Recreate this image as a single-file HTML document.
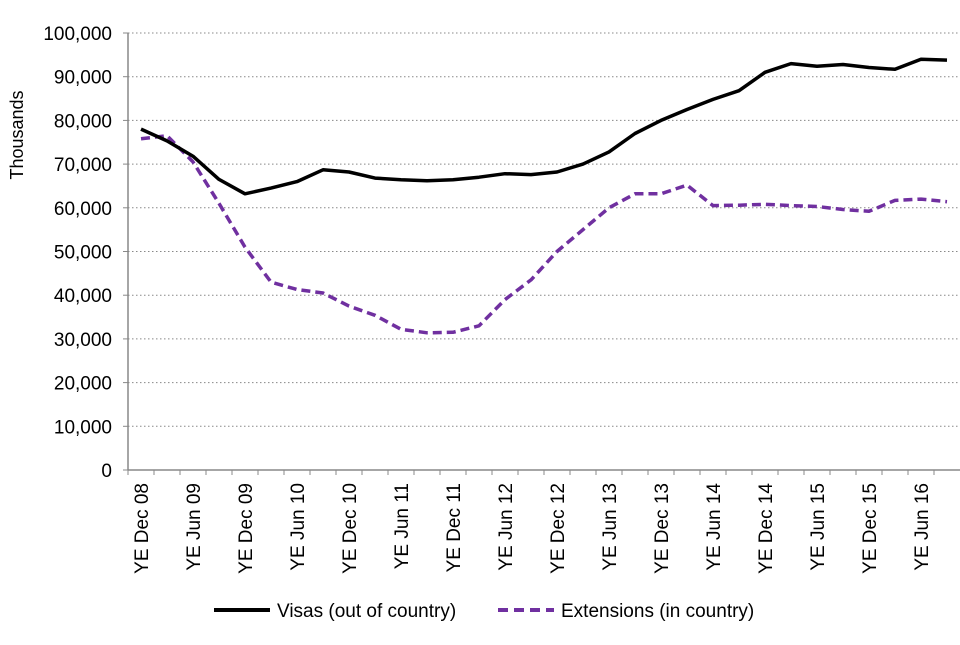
<!DOCTYPE html>
<html><head><meta charset="utf-8"><style>
body{margin:0;background:#fff;font-family:"Liberation Sans",Arial,sans-serif;}
svg text{font-family:"Liberation Sans",Arial,sans-serif;fill:#000;}
</style></head><body>
<svg id="chart" width="960" height="640" xmlns="http://www.w3.org/2000/svg">
<g id="grid"></g><g id="axes"></g><g id="series"></g>
<text transform="translate(23,135) rotate(-90)" text-anchor="middle" font-size="18">Thousands</text>
<g>
<g><line x1="214" y1="610" x2="270" y2="610" stroke="#000" stroke-width="4"/><text x="277" y="617" font-size="19">Visas (out of country)</text></g>
<g><line x1="498" y1="610" x2="554" y2="610" stroke="#7030a0" stroke-width="4" stroke-dasharray="10,6"/><text x="561" y="617" font-size="19">Extensions (in country)</text></g>
</g>
</svg>
<script>
const categories=["YE Dec 08","YE Mar 09","YE Jun 09","YE Sep 09","YE Dec 09","YE Mar 10","YE Jun 10","YE Sep 10","YE Dec 10","YE Mar 11","YE Jun 11","YE Sep 11","YE Dec 11","YE Mar 12","YE Jun 12","YE Sep 12","YE Dec 12","YE Mar 13","YE Jun 13","YE Sep 13","YE Dec 13","YE Mar 14","YE Jun 14","YE Sep 14","YE Dec 14","YE Mar 15","YE Jun 15","YE Sep 15","YE Dec 15","YE Mar 16","YE Jun 16","YE Sep 16"];
const visas=[78000,75300,71800,66500,63200,64500,66000,68700,68200,66800,66400,66200,66400,67000,67800,67600,68200,70000,72800,77000,80000,82500,84800,86800,91000,93000,92400,92800,92100,91700,94000,93800];
const extensions=[75800,76500,70500,61000,51000,43000,41300,40500,37500,35400,32200,31400,31500,33000,39000,43500,50000,55000,60000,63200,63200,65200,60500,60600,60800,60500,60300,59600,59200,61700,62000,61400];
const yTicks=[0,10000,20000,30000,40000,50000,60000,70000,80000,90000,100000];
const NS="http://www.w3.org/2000/svg";
const L=128,R=960,T=33,B=470,band=(R-L)/categories.length;
function x(i){return L+band*(i+0.5);}
function y(v){return B-(v/100000)*(B-T);}
const grid=document.getElementById('grid'),axes=document.getElementById('axes'),series=document.getElementById('series');
yTicks.forEach(t=>{
 if(t>0){const g=document.createElementNS(NS,'line');
 
 
 g.setAttribute('x1',L);g.setAttribute('x2',R);g.setAttribute('y1',y(t));g.setAttribute('y2',y(t));
 g.setAttribute('stroke','#888');g.setAttribute('stroke-width','1');g.setAttribute('stroke-dasharray','1.5,2.5');grid.appendChild(g);}
 const tk=document.createElementNS(NS,'line');
 
 
 tk.setAttribute('x1',L-5);tk.setAttribute('x2',L);tk.setAttribute('y1',y(t));tk.setAttribute('y2',y(t));tk.setAttribute('stroke','#888');axes.appendChild(tk);
 const tx=document.createElementNS(NS,'text');
 
 
 tx.setAttribute('x',L-16);tx.setAttribute('y',y(t)+7);tx.setAttribute('text-anchor','end');tx.setAttribute('font-size','19');
 tx.textContent=t.toLocaleString('en-US');axes.appendChild(tx);
});
const ya=document.createElementNS(NS,'line');


ya.setAttribute('x1',L);ya.setAttribute('x2',L);ya.setAttribute('y1',T);ya.setAttribute('y2',B);ya.setAttribute('stroke','#888');ya.setAttribute('stroke-width','1.5');axes.appendChild(ya);
const xa=document.createElementNS(NS,'line');


xa.setAttribute('x1',L);xa.setAttribute('x2',R);xa.setAttribute('y1',B);xa.setAttribute('y2',B);xa.setAttribute('stroke','#888');xa.setAttribute('stroke-width','1.5');axes.appendChild(xa);
categories.forEach((c,i)=>{
 const tk=document.createElementNS(NS,'line');
 
 
 tk.setAttribute('x1',L+band*i);tk.setAttribute('x2',L+band*i);tk.setAttribute('y1',B);tk.setAttribute('y2',B+5);tk.setAttribute('stroke','#888');axes.appendChild(tk);
 if(i%2!==0)return;
 const tx=document.createElementNS(NS,'text');
 
 
 tx.setAttribute('transform','translate('+(x(i)+7)+','+(B+13)+') rotate(-90)');
 tx.setAttribute('text-anchor','end');tx.setAttribute('font-size','19');
 tx.textContent=c;axes.appendChild(tx);
});
function draw(vals,color,dash,name){
 const p=document.createElementNS(NS,'polyline');
 
 
 p.setAttribute('points',vals.map((v,i)=>x(i).toFixed(1)+','+y(v).toFixed(1)).join(' '));
 p.setAttribute('fill','none');p.setAttribute('stroke',color);p.setAttribute('stroke-width','3.5');p.setAttribute('stroke-linejoin','round');
 if(dash)p.setAttribute('stroke-dasharray',dash);
 series.appendChild(p);
}
draw(extensions,'#7030a0','9,5','extensions-line');
draw(visas,'#000',null,'visas-line');
</script>
</body></html>
